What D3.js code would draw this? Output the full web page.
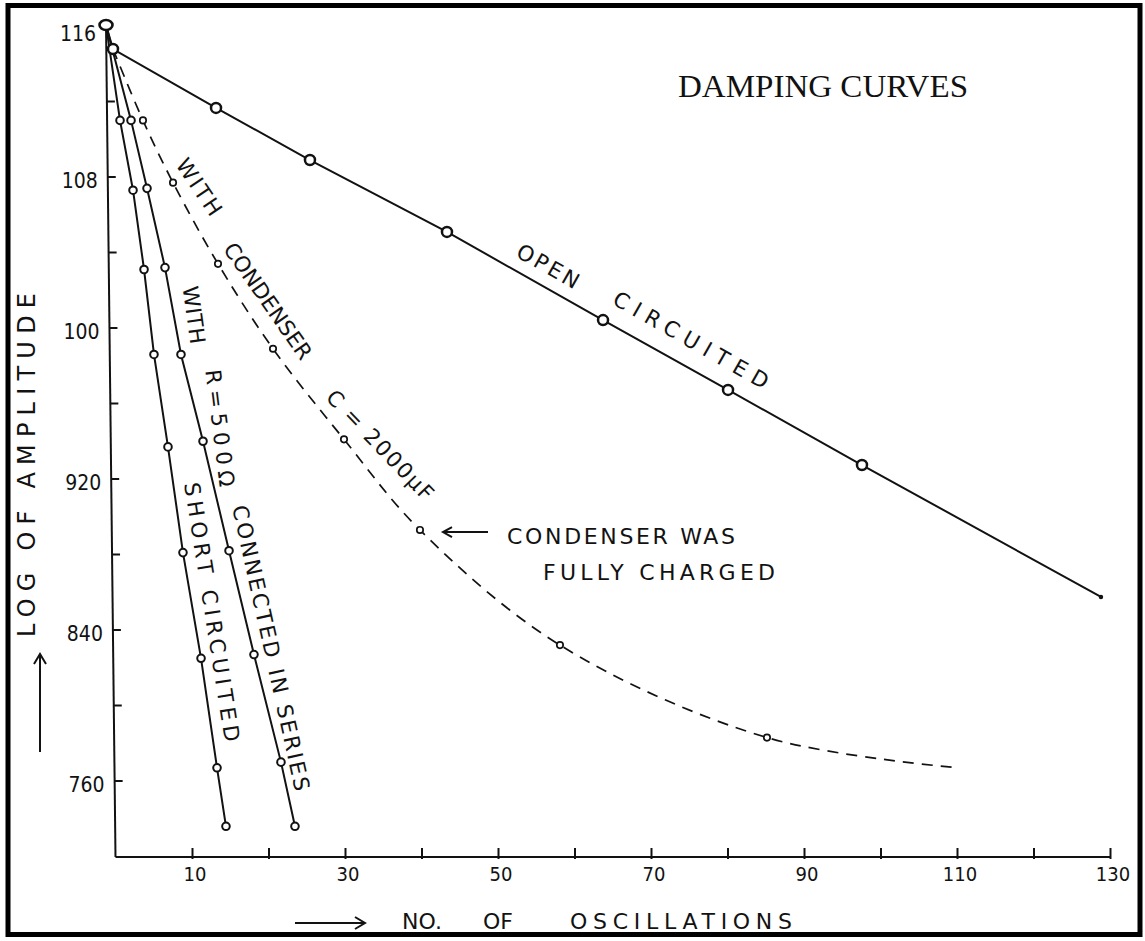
<!DOCTYPE html>
<html><head><meta charset="utf-8">
<script src="https://cdn.jsdelivr.net/npm/d3@7"></script>
<style>body{margin:0;background:#fff}svg{display:block}</style>
</head><body>
<svg id="c" width="1145" height="941"></svg>
<script>
// ---------- data ----------
const yTickValues = [116, 108, 100, 92, 84, 76];
const yTickLabels = ["116", "108", "100", "920", "840", "760"];
const yMinorTicks = [112, 108, 104, 100, 96, 92, 88, 84, 80, 76];
const xTickValues = [10, 20, 30, 40, 50, 60, 70, 80, 90, 100, 110, 120, 130];
const xLabelValues = [10, 30, 50, 70, 90, 110, 130];
const xLabels = ["10", "30", "50", "70", "90", "110", "130"];

const originX = -1.24, originY = 116.05;            // common starting point
const openX = [-0.33, 13.14, 25.42, 43.33, 63.73, 80.07, 97.58, 128.82];
const openY = [114.78, 111.66, 108.90, 105.09, 100.42, 96.72, 92.74, 85.75];
const shortX = [0.59, 2.29, 3.73, 5.03, 6.86, 8.82, 11.18, 13.27, 14.44];
const shortY = [111.0, 107.3, 103.1, 98.6, 93.7, 88.1, 82.5, 76.7, 73.6];
const resX = [2.03, 4.12, 6.47, 8.56, 11.44, 14.84, 18.10, 21.63, 23.46];
const resY = [111.0, 107.4, 103.2, 98.6, 94.0, 88.2, 82.7, 77.0, 73.6];
const condX = [3.59, 7.52, 13.40, 20.59, 29.87, 39.80, 58.10, 85.16, 110.13];
const condY = [111.0, 107.7, 103.4, 98.9, 94.1, 89.3, 83.2, 78.3, 76.7];

const title = "DAMPING CURVES";
const yTitle = "LOG OF AMPLITUDE";
const xTitleWords = ["NO.", "OF", "OSCILLATIONS"];
const curveLabels = ["OPEN", "CIRCUITED", "WITH", "CONDENSER", "C = 2000μF", "WITH", "R=500Ω", "CONNECTED IN SERIES", "SHORT CIRCUITED"];
const noteLines = ["CONDENSER WAS", "FULLY CHARGED"];

// ---------- layout ----------
const svg = d3.select("#c");
const ink = "#121212";
const hand = "'DejaVu Sans', sans-serif";
const handNarrow = "'DejaVu Sans Condensed', 'DejaVu Sans', sans-serif";
const x = d3.scaleLinear().domain([0, 130]).range([115.5, 1110]);
const y = d3.scaleLinear().domain([116, 76]).range([26, 781]);
const yMin = y.invert(857);

// frame
svg.append("rect").attr("x", 8).attr("y", 5.5).attr("width", 1132).attr("height", 929)
  .attr("fill", "none").attr("stroke", "#000").attr("stroke-width", 5);

// slanted hand-drawn y axis: from origin point down to x=0 at the bottom
const axTop = [x(originX), y(originY)], axBot = [x(0), y(yMin)];
const axisX = v => axTop[0] + (axBot[0] - axTop[0]) * (y(v) - axTop[1]) / (axBot[1] - axTop[1]);
const gy = svg.append("g");
gy.append("line").attr("x1", axTop[0]).attr("y1", axTop[1]).attr("x2", axBot[0]).attr("y2", axBot[1])
  .attr("stroke", ink).attr("stroke-width", 2);
gy.selectAll("line.t").data(yMinorTicks).join("line").attr("class", "t")
  .attr("x1", d => axisX(d)).attr("x2", d => axisX(d) + 8)
  .attr("y1", d => y(d)).attr("y2", d => y(d))
  .attr("stroke", ink).attr("stroke-width", 2);
gy.selectAll("text").data(yTickValues).join("text")
  .attr("x", d => axisX(d) - 10).attr("y", (d, i) => y(d) + (i === 0 ? 8 : 4))
  .attr("text-anchor", "end").attr("dominant-baseline", "central")
  .attr("font-family", handNarrow).attr("font-size", 21)
  .attr("fill", ink).text((d, i) => yTickLabels[i]);

// x axis
const gx = svg.append("g").attr("transform", `translate(0,${y(yMin)})`);
gx.call(d3.axisBottom(x).tickValues(xTickValues).tickSize(-9).tickPadding(8).tickFormat(() => ""));
gx.select(".domain").attr("d", `M${x(0)},0H${x(130)}`).attr("stroke", ink).attr("stroke-width", 2);
gx.selectAll(".tick line").attr("stroke", ink).attr("stroke-width", 2).attr("y1", 2);
gx.selectAll("text.lab").data(xLabelValues).join("text").attr("class", "lab")
  .attr("x", d => x(d) + 3).attr("y", 17)
  .attr("text-anchor", "middle").attr("dominant-baseline", "central")
  .attr("font-family", handNarrow).attr("font-size", 20)
  .attr("fill", ink).text((d, i) => xLabels[i]);

// ---------- curves ----------
const pts = (xs, ys) => xs.map((v, i) => [v, ys[i]]);
const line = d3.line().x(d => x(d[0])).y(d => y(d[1]));
const smooth = d3.line().x(d => x(d[0])).y(d => y(d[1])).curve(d3.curveCatmullRom.alpha(0.5));

const openPts = pts(openX, openY);
const shortPts = pts(shortX, shortY);
const resPts = pts(resX, resY);
const condPts = pts(condX, condY);
const o = [originX, originY];

svg.append("path").attr("d", line([o, ...openPts])).attr("fill", "none").attr("stroke", ink).attr("stroke-width", 2);
svg.append("path").attr("d", line([o, ...shortPts])).attr("fill", "none").attr("stroke", ink).attr("stroke-width", 2);
svg.append("path").attr("d", line([o, ...resPts])).attr("fill", "none").attr("stroke", ink).attr("stroke-width", 2);
svg.append("path").attr("d", smooth([openPts[0], ...condPts])).attr("fill", "none").attr("stroke", ink)
  .attr("stroke-width", 1.7).attr("stroke-dasharray", "11,8");

function circles(data, r, sw) {
  svg.append("g").selectAll("circle").data(data).join("circle")
    .attr("cx", d => x(d[0])).attr("cy", d => y(d[1])).attr("r", r)
    .attr("fill", "#fff").attr("stroke", ink).attr("stroke-width", sw);
}
circles(openPts.slice(0, -1), 5, 2.5);
circles(shortPts, 3.8, 2);
circles(resPts, 3.8, 2);
circles(condPts.slice(0, -1), 3.2, 1.7);
// open-circuit end dot
svg.append("circle").attr("cx", x(openX[openX.length - 1])).attr("cy", y(openY[openY.length - 1]))
  .attr("r", 2.2).attr("fill", ink);
// start point
svg.append("ellipse").attr("cx", x(originX)).attr("cy", y(originY)).attr("rx", 6.5).attr("ry", 5)
  .attr("fill", "#fff").attr("stroke", ink).attr("stroke-width", 2.6);

// ---------- texts ----------
svg.append("text").attr("x", 678).attr("y", 97).attr("font-family", "'Liberation Serif', 'Times New Roman', serif")
  .attr("font-size", 32).attr("textLength", 290).attr("lengthAdjust", "spacingAndGlyphs").attr("fill", "#111").text(title);

// curve labels placed in data coordinates
const labelPos = [
  [56.54, 103.28, 29.5, 68], [75.23, 99.36, 29.5, 175],
  [10.92, 107.47, 56, 64], [19.93, 101.43, 55, 137], [34.58, 93.8, 46, 144],
  [10.26, 100.69, 82, 58], [13.66, 94.7, 83, 118], [20.33, 83.05, 77.5, 292],
  [12.61, 84.95, 81, 262]
];
svg.append("g").selectAll("text").data(curveLabels).join("text")
  .attr("transform", (d, i) => `translate(${x(labelPos[i][0])},${y(labelPos[i][1])}) rotate(${labelPos[i][2]})`)
  .attr("text-anchor", "middle").attr("dominant-baseline", "central")
  .attr("font-family", hand).attr("font-size", 21.5).attr("fill", ink)
  .attr("textLength", (d, i) => labelPos[i][3]).attr("lengthAdjust", "spacing")
  .text(d => d);

// condenser note with arrow
const arrowY = y(89.19);
svg.append("path").attr("d", `M${x(48.69)},${arrowY}H${x(42.81)}M${x(42.81) + 9},${arrowY - 5}L${x(42.81)},${arrowY}L${x(42.81) + 9},${arrowY + 5}`)
  .attr("fill", "none").attr("stroke", ink).attr("stroke-width", 2);
svg.append("text").attr("x", x(51.18)).attr("y", y(88.93)).attr("dominant-baseline", "central")
  .attr("font-family", hand).attr("font-size", 22).attr("fill", ink)
  .attr("textLength", 228).attr("lengthAdjust", "spacing").text(noteLines[0]);
svg.append("text").attr("x", x(55.88)).attr("y", y(87.02)).attr("dominant-baseline", "central")
  .attr("font-family", hand).attr("font-size", 22).attr("fill", ink)
  .attr("textLength", 232).attr("lengthAdjust", "spacing").text(noteLines[1]);

// y axis title + arrow
svg.append("text").attr("transform", "translate(27,465) rotate(-90)")
  .attr("text-anchor", "middle").attr("dominant-baseline", "central")
  .attr("font-family", hand).attr("font-size", 24).attr("fill", ink)
  .attr("textLength", 344).attr("lengthAdjust", "spacing").text(yTitle);
svg.append("path").attr("d", "M40,752V654M34,664L40,654L46,664")
  .attr("fill", "none").attr("stroke", ink).attr("stroke-width", 2);

// x axis title + arrow
svg.append("path").attr("d", "M295,923H365M355,917L365,923L355,929")
  .attr("fill", "none").attr("stroke", ink).attr("stroke-width", 2);
const xtPos = [402, 483, 570];
svg.append("g").selectAll("text").data(xTitleWords).join("text")
  .attr("x", (d, i) => xtPos[i]).attr("y", 929)
  .attr("font-family", hand).attr("font-size", 22).attr("fill", ink)
  .attr("textLength", (d, i) => i === 2 ? 222 : null).attr("lengthAdjust", "spacing").text(d => d);
</script>
</body></html>
